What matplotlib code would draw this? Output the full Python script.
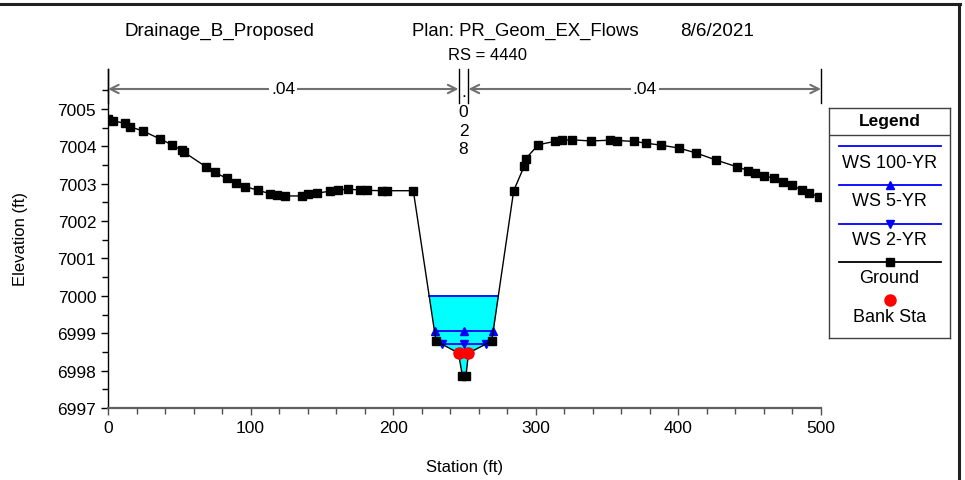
import numpy as np
import matplotlib
matplotlib.use("Agg")
import matplotlib.pyplot as plt
from matplotlib.lines import Line2D
import matplotlib.transforms as mtransforms

plt.rcParams['font.family'] = ['Liberation Sans', 'DejaVu Sans']

# ---------------- data ----------------
ground_sta = [0.2, 3.7, 11.9, 15.4, 24.3, 36.7, 44.7, 51.7, 53.3, 68.7, 75.0, 83.2, 89.8,
              96.1, 105.4, 113.6, 118.3, 124.1, 135.8, 140.5, 146.3, 155.7, 161.5, 168.5,
              176.7, 181.4, 191.9, 195.4, 214.1, 230.0, 245.8, 248.5, 251.0, 252.8, 269.1,
              284.5, 292.0, 292.8, 301.8, 313.5, 318.2, 325.6, 338.5, 352.0, 356.7, 368.9,
              377.1, 387.6, 400.4, 412.3, 426.4, 440.9, 449.0, 453.7, 460.0, 467.0, 473.1,
              479.4, 486.4, 491.8, 498.8]
ground_elev = [7004.73, 7004.68, 7004.61, 7004.52, 7004.41, 7004.19, 7004.04, 7003.89, 7003.84,
               7003.45, 7003.30, 7003.14, 7003.01, 7002.92, 7002.82, 7002.73, 7002.70, 7002.67,
               7002.67, 7002.71, 7002.74, 7002.80, 7002.83, 7002.85, 7002.83, 7002.82, 7002.81,
               7002.81, 7002.81, 6998.79, 6998.47, 6997.86, 6997.86, 6998.47, 6998.79, 7002.81,
               7003.48, 7003.66, 7004.04, 7004.13, 7004.16, 7004.17, 7004.14, 7004.16, 7004.15,
               7004.13, 7004.08, 7004.03, 7003.95, 7003.82, 7003.63, 7003.45, 7003.35, 7003.28,
               7003.20, 7003.15, 7003.05, 7002.96, 7002.83, 7002.74, 7002.65]
bank_sta = [245.8, 252.8]
bank_elev = [6998.47, 6998.47]
ws_names = ['WS 100-YR', 'WS 5-YR', 'WS 2-YR']
ws_elev = [7000.00, 6999.05, 6998.71]
mann_n = ['.04', '.028', '.04']
title_parts = ['Drainage_B_Proposed', 'Plan: PR_Geom_EX_Flows', '8/6/2021']
subtitle = 'RS = 4440'
x_ticks = [0, 100, 200, 300, 400, 500]
y_ticks = [6997, 6998, 6999, 7000, 7001, 7002, 7003, 7004, 7005]

gs = np.array(ground_sta)
ge = np.array(ground_elev)


def crossings(level):
    i0 = int(np.argmin(ge))
    i = i0
    while ge[i] < level:
        i -= 1
    xl = gs[i] + (level - ge[i]) * (gs[i + 1] - gs[i]) / (ge[i + 1] - ge[i])
    j = i0
    while ge[j] < level:
        j += 1
    xr = gs[j - 1] + (level - ge[j - 1]) * (gs[j] - gs[j - 1]) / (ge[j] - ge[j - 1])
    return xl, xr


# ---------------- figure ----------------
W, H = 965, 481
fig = plt.figure(figsize=(W / 100, H / 100), dpi=100)
ax = fig.add_axes([108 / W, 1 - 409 / H, (821 - 108) / W, (409 - 70) / H])
ax.set_xlim(0, 500)
ax.set_ylim(6997, 6997 + 339 / 37.4)

# water fill
xl100, xr100 = crossings(ws_elev[0])
xf = np.linspace(xl100, xr100, 3000)
gf = np.interp(xf, gs, ge)
ax.fill_between(xf, gf, ws_elev[0], where=gf < ws_elev[0], color='#00FFFF', lw=0, zorder=1)

# water surface lines
markers = [None, '^', 'v']
for name, lev, mk in zip(ws_names, ws_elev, markers):
    a, b = crossings(lev)
    ax.plot([a, b], [lev, lev], color='#0000FF', lw=1.3, zorder=3)
    if mk:
        ax.plot([a, (a + b) / 2, b], [lev] * 3, ls='none', marker=mk, color='#0000FF',
                ms=6, zorder=4)

# ground
ax.plot(gs, ge, color='black', lw=1.0, marker='s', ms=5.8, zorder=5)
ax.plot(bank_sta, bank_elev, ls='none', marker='o', color='#FF0000', ms=8, zorder=6)

# axes styling
for s in ['top', 'right']:
    ax.spines[s].set_visible(False)
ax.spines['left'].set_color('black')
ax.spines['left'].set_linewidth(1.0)
ax.spines['bottom'].set_color('#606060')
ax.spines['bottom'].set_linewidth(1.6)
ax.set_xticks(x_ticks)
ax.set_yticks(y_ticks)
ax.set_xticks(np.arange(0, 501, 20), minor=True)
ax.set_yticks(np.arange(6997, 7006, 0.5), minor=True)
ax.tick_params(axis='both', which='major', labelsize=12.5, direction='out', length=5, width=1)
ax.tick_params(axis='both', which='minor', direction='out', length=4, width=1)
ax.tick_params(axis='x', which='both', color='#505050')
ax.tick_params(axis='x', pad=4)
ax.set_xlabel('Station (ft)', fontsize=12, labelpad=17)
ax.set_ylabel('Elevation (ft)', fontsize=12, labelpad=21)

# Manning's n annotations
trans = mtransforms.blended_transform_factory(ax.transData, ax.transAxes)
y_arr = (409 - 90) / 339
y_lo = (409 - 104) / 339
for xs in [0, bank_sta[0], bank_sta[1], 500]:
    ax.plot([xs, xs], [y_lo, 1.0], transform=trans, color='black', lw=1.0, clip_on=False, zorder=7)
arrow_kw = dict(arrowstyle='<->,head_length=0.6,head_width=0.3', color='#707070', lw=1.5,
                shrinkA=0, shrinkB=0)
for a, b, lab in [(0, bank_sta[0], mann_n[0]), (bank_sta[1], 500, mann_n[2])]:
    ax.annotate('', xy=(a, y_arr), xytext=(b, y_arr), xycoords=trans, textcoords=trans,
                arrowprops=arrow_kw, annotation_clip=False, zorder=7)
    ax.text((a + b) / 2, y_arr, lab, transform=trans, ha='center', va='center', fontsize=12.5,
            bbox=dict(facecolor='white', edgecolor='none', pad=1.5), zorder=8)
mid_bank = (bank_sta[0] + bank_sta[1]) / 2
for ch, base_px in zip(mann_n[1], [97, 117, 135.5, 154]):
    ax.text(mid_bank, (409 - base_px) / 339, ch, transform=trans, ha='center', va='baseline',
            fontsize=12.5, zorder=8)

# titles
fig.text(125 / W, 1 - 31 / H, title_parts[0], ha='left', va='center', fontsize=13.6)
fig.text(412 / W, 1 - 31 / H, title_parts[1], ha='left', va='center', fontsize=13.3)
fig.text(680 / W, 1 - 31 / H, title_parts[2], ha='left', va='center', fontsize=13.6)
fig.text(487 / W, 1 - 55 / H, subtitle, ha='center', va='center', fontsize=12)

# legend box (pixel coordinates)
lax = fig.add_axes([829 / W, 1 - 339 / H, (950 - 829) / W, (339 - 109) / H])
lax.set_xlim(829, 950)
lax.set_ylim(339, 109)
lax.set_xticks([])
lax.set_yticks([])
for s in lax.spines.values():
    s.set_color('#404040')
    s.set_linewidth(1.0)
lax.axhline(136, color='#404040', lw=1.0)
lax.text(889.5, 122, 'Legend', ha='center', va='center', fontsize=12.5, fontweight='bold')
entries = [(ws_names[0], '#0000FF', None), (ws_names[1], '#0000FF', '^'),
           (ws_names[2], '#0000FF', 'v'), ('Ground', 'black', 's')]
ly = [147.3, 186, 224.7, 263]
for (lab, col, mk), yy in zip(entries, ly):
    lax.plot([839, 941], [yy, yy], color=col, lw=1.3)
    if mk:
        lax.plot([890], [yy], marker=mk, color=col, ms=6 if mk != 's' else 5.5, ls='none')
    lax.text(889.5, yy + 16, lab, ha='center', va='center', fontsize=13)
lax.plot([890], [301], marker='o', color='#FF0000', ms=8, ls='none')
lax.text(889.5, 318, 'Bank Sta', ha='center', va='center', fontsize=13)

# window frame
fig.add_artist(Line2D([0, 960 / W], [1 - 5 / H, 1 - 5 / H], color='#202020', lw=2.2,
                      transform=fig.transFigure))
fig.add_artist(Line2D([959 / W, 959 / W], [1 - 5 / H, 0], color='#202020', lw=2.2,
                      transform=fig.transFigure))

fig.savefig('out.png', dpi=100)
